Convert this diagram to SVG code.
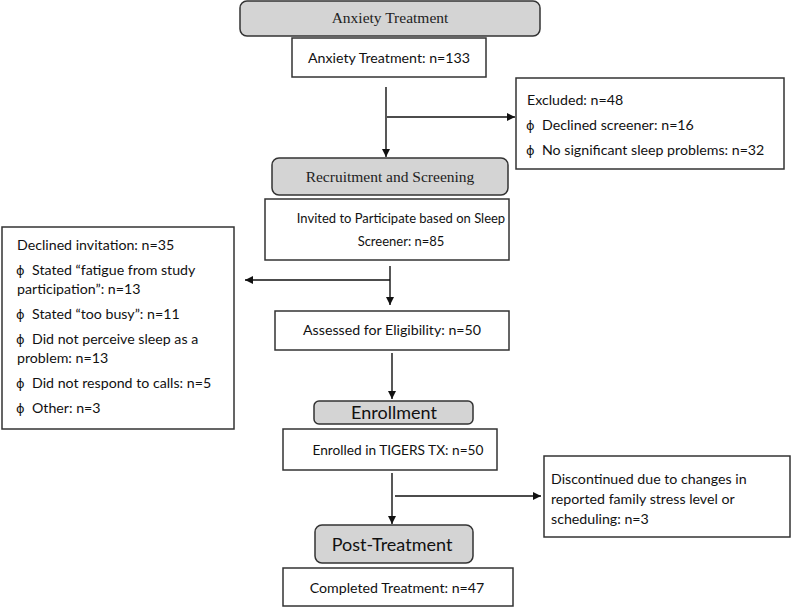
<svg xmlns="http://www.w3.org/2000/svg" width="800" height="610" viewBox="0 0 800 610">
<defs>
<marker id="ah" viewBox="0 0 10 10" refX="10" refY="5" markerWidth="8" markerHeight="8" markerUnits="userSpaceOnUse" orient="auto">
<path d="M0,0 L10,5 L0,10 z" fill="#111"/>
</marker>
<style>
.hdr{fill:#d4d4d4;stroke:#333;stroke-width:1.5}
.box{fill:#fff;stroke:#333;stroke-width:1.5}
.serif{font-family:"Liberation Serif","Times New Roman",serif;font-size:15.5px;fill:#222;text-anchor:middle}
.sans{font-family:Lato,"Open Sans",sans-serif;font-size:14.2px;fill:#111}
.mid{text-anchor:middle}
.big{font-size:18px}
.phi{font-family:"DejaVu Sans",sans-serif;font-size:13px}
.conn{stroke:#111;stroke-width:1.4;fill:none}
</style>
</defs>
<g id="n_anxiety_hdr">
<rect class="hdr" x="240" y="1" width="300" height="35" rx="7"/>
<text class="serif" x="390" y="23">Anxiety Treatment</text>
</g>
<g id="n_anxiety">
<rect class="box" x="292" y="38" width="194" height="39"/>
<text class="sans mid" x="389" y="63">Anxiety Treatment: n=133</text>
</g>
<g id="n_excluded">
<rect class="box" x="516" y="78" width="268" height="91"/>
<text class="sans" x="527" y="105">Excluded: n=48</text>
<text class="sans" y="130"><tspan class="phi" x="526">ϕ</tspan><tspan x="542">Declined screener: n=16</tspan></text>
<text class="sans" y="155"><tspan class="phi" x="526">ϕ</tspan><tspan x="542">No significant sleep problems: n=32</tspan></text>
</g>
<g id="n_recruit_hdr">
<rect class="hdr" x="272" y="158" width="236" height="37" rx="7"/>
<text class="serif" x="390" y="182">Recruitment and Screening</text>
</g>
<g id="n_invited">
<rect class="box" x="265" y="199" width="244" height="61"/>
<text class="sans mid" x="401" y="223" style="font-size:13px">Invited to Participate based on Sleep</text>
<text class="sans mid" x="401" y="246" style="font-size:13px">Screener: n=85</text>
</g>
<g id="n_declined">
<rect class="box" x="2" y="227" width="232" height="202"/>
<text class="sans" x="17" y="250">Declined invitation: n=35</text>
<text class="sans" y="275"><tspan class="phi" x="16">ϕ</tspan><tspan x="32">Stated “fatigue from study</tspan></text>
<text class="sans" x="17" y="294">participation”: n=13</text>
<text class="sans" y="319"><tspan class="phi" x="16">ϕ</tspan><tspan x="32">Stated “too busy”: n=11</tspan></text>
<text class="sans" y="344"><tspan class="phi" x="16">ϕ</tspan><tspan x="32">Did not perceive sleep as a</tspan></text>
<text class="sans" x="17" y="363">problem: n=13</text>
<text class="sans" y="388"><tspan class="phi" x="16">ϕ</tspan><tspan x="32">Did not respond to calls: n=5</tspan></text>
<text class="sans" y="413"><tspan class="phi" x="16">ϕ</tspan><tspan x="32">Other: n=3</tspan></text>
</g>
<g id="n_assessed">
<rect class="box" x="275" y="311" width="234" height="39"/>
<text class="sans mid" x="392" y="335">Assessed for Eligibility: n=50</text>
</g>
<g id="n_enroll_hdr">
<rect class="hdr" x="314" y="401" width="159" height="23" rx="5"/>
<text class="sans mid big" x="394" y="419">Enrollment</text>
</g>
<g id="n_enrolled">
<rect class="box" x="283" y="429" width="214" height="41"/>
<text class="sans mid" x="398" y="455" style="font-size:13.7px">Enrolled in TIGERS TX: n=50</text>
</g>
<g id="n_discontinued">
<rect class="box" x="544" y="456" width="246" height="81"/>
<text class="sans" x="551" y="484">Discontinued due to changes in</text>
<text class="sans" x="551" y="504">reported family stress level or</text>
<text class="sans" x="551" y="524">scheduling: n=3</text>
</g>
<g id="n_post_hdr">
<rect class="hdr" x="315" y="525" width="158" height="38" rx="7"/>
<text class="sans mid big" x="392" y="551">Post-Treatment</text>
</g>
<g id="n_completed">
<rect class="box" x="283" y="568" width="230" height="38"/>
<text class="sans mid" x="397" y="593">Completed Treatment: n=47</text>
</g>
<g id="connectors">
<line class="conn" x1="386" y1="87" x2="386" y2="157" marker-end="url(#ah)"/>
<line class="conn" x1="387" y1="117" x2="515" y2="117" marker-end="url(#ah)"/>
<line class="conn" x1="390" y1="266" x2="390" y2="305" marker-end="url(#ah)"/>
<line class="conn" x1="390" y1="280" x2="245" y2="280" marker-end="url(#ah)"/>
<line class="conn" x1="392" y1="353" x2="392" y2="399" marker-end="url(#ah)"/>
<line class="conn" x1="392" y1="473" x2="392" y2="524" marker-end="url(#ah)"/>
<line class="conn" x1="395" y1="496" x2="541" y2="496" marker-end="url(#ah)"/>
</g>
</svg>
